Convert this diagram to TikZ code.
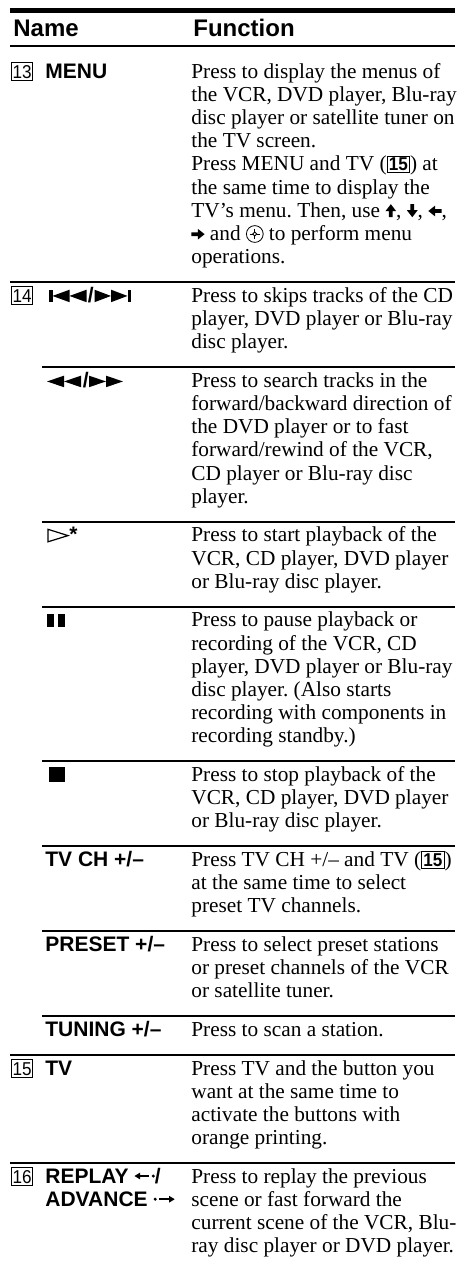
\documentclass[tikz,border=0pt]{standalone}
\usepackage{fontspec}
\setmainfont{Liberation Serif}
\newfontfamily\sansfont{Liberation Sans}
\newfontfamily\numfont[FakeStretch=0.92]{Liberation Sans}
\frenchspacing
\newcommand\bodyfont{\fontsize{10.65pt}{11.6pt}\selectfont}
\newcommand\namefont{\sansfont\bfseries\fontsize{10.5pt}{11pt}\selectfont}
\newcommand\headfont{\sansfont\bfseries\fontsize{12pt}{13pt}\selectfont}
\newcommand\boxfont{\numfont\fontsize{9.3pt}{10pt}\selectfont}
% inline symbols
\newcommand\bnum[1]{{\setlength\fboxsep{0.6pt}\setlength\fboxrule{0.5pt}\fbox{\boxfont\bfseries #1}}}
\newcommand\uarr{\tikz[baseline=0pt,x=1pt,y=1pt]\fill (-0.95,0) -- (-0.95,3.0) -- (-2.7,3.0) -- (0,6.5) -- (2.7,3.0) -- (0.95,3.0) -- (0.95,0) -- cycle;}
\newcommand\darr{\tikz[baseline=0pt,x=1pt,y=1pt]\fill (-0.95,6.5) -- (-0.95,3.5) -- (-2.7,3.5) -- (0,0) -- (2.7,3.5) -- (0.95,3.5) -- (0.95,6.5) -- cycle;}
\newcommand\larr{\tikz[baseline=0pt,x=1pt,y=1pt]\fill (0,3.1) -- (3.4,5.8) -- (3.4,4.05) -- (6.6,4.05) -- (6.6,2.15) -- (3.4,2.15) -- (3.4,0.4) -- cycle;}
\newcommand\rarr{\tikz[baseline=0pt,x=1pt,y=1pt]\fill (6.6,3.1) -- (3.2,5.8) -- (3.2,4.05) -- (0,4.05) -- (0,2.15) -- (3.2,2.15) -- (3.2,0.4) -- cycle;}
\newcommand\enter{\tikz[baseline=0pt,x=1pt,y=1pt,line width=0.4pt]{\draw (0,3.2) circle (4.2);
  \draw (0,0.6) -- (0,2.2) (0,4.2) -- (0,5.8) (-2.6,3.2) -- (-1,3.2) (1,3.2) -- (2.6,3.2);
  \draw (0,2.2) -- (1,3.2) -- (0,4.2) -- (-1,3.2) -- cycle;}}
\newcommand\replayarr{\tikz[baseline=0pt,x=1pt,y=1pt]{\fill (0,3.6) -- (2.8,5.3) -- (2.8,1.9) -- cycle; \draw[line width=0.75pt] (2.5,3.6) -- (7.4,3.6); \fill (9.4,3.6) circle (0.85);}}
\newcommand\advarr{\tikz[baseline=0pt,x=1pt,y=1pt]{\fill (0.85,3.6) circle (0.85); \draw[line width=0.75pt] (2.9,3.6) -- (7.8,3.6); \fill (10.6,3.6) -- (7.8,5.3) -- (7.8,1.9) -- cycle;}}
\newcommand\fl[3]{\node[fn] (#1) at (191,#2) {#3};}
\begin{document}
\begin{tikzpicture}[x=0.5pt,y=-0.5pt,
  fn/.style={anchor=base west,inner sep=0pt,font=\bodyfont},
  nm/.style={anchor=base west,inner sep=0pt,font=\namefont},
  hd/.style={anchor=base west,inner sep=0pt,font=\headfont},
  numbox/.style={draw,line width=0.5pt,anchor=base west,font=\boxfont,inner xsep=0.6pt,inner ysep=1.1pt,text height=6.7pt,text depth=0pt,minimum width=10.3pt},
  rl/.style={line width=1pt},
  symb/.style={fill=black}]
\useasboundingbox (0,0) rectangle (459,1269);
\fill[white] (0,0) rectangle (459,1269);
% header
\draw[line width=2.5pt] (10,10) -- (455,10);
\node[hd] (hname) at (13,36) {Name};
\node[hd] (hfunc) at (193,36) {Function};
\draw[rl] (10,45.5) -- (455,45.5);
% 13 MENU
\node[numbox] (n13) at (11,78) {13};
\node[nm] (menu) at (45,78) {MENU};
\fl{a1}{78}{Press to display the menus of}
\fl{a2}{101.2}{the VCR, DVD player, Blu-ray}
\fl{a3}{124.4}{disc player or satellite tuner on}
\fl{a4}{147.6}{the TV screen.}
\fl{a5}{170.8}{Press MENU and TV (\bnum{15}) at}
\fl{a6}{194.0}{the same time to display the}
\fl{a7}{217.2}{TV’s menu. Then, use \uarr, \darr, \larr,}
\fl{a8}{240.4}{\rarr{} and \enter{} to perform menu}
\fl{a9}{263.6}{operations.}
\draw[rl] (10,281.9) -- (455,281.9);
% 14 skip
\node[numbox] (n14) at (11,302.2) {14};
\begin{scope}[shift={(47,302.2)}]
  \fill[symb] (2,0) rectangle (5.5,-12.5);
  \fill[symb] (5.5,-6.25) -- (22.5,-12.5) -- (22.5,0) -- cycle;
  \fill[symb] (22.5,-6.25) -- (39.5,-12.5) -- (39.5,0) -- cycle;
  \node[nm] (sl1) at (40.5,0) {/};
  \fill[symb] (47.5,-12.5) -- (64,-6.25) -- (47.5,0) -- cycle;
  \fill[symb] (64,-12.5) -- (80.5,-6.25) -- (64,0) -- cycle;
  \fill[symb] (80.5,0) rectangle (84,-12.5);
\end{scope}
\fl{b1}{302.2}{Press to skips tracks of the CD}
\fl{b2}{325.4}{player, DVD player or Blu-ray}
\fl{b3}{348.6}{disc player.}
\draw[rl] (42,366.9) -- (455,366.9);
% search
\begin{scope}[shift={(47,387.2)}]
  \fill[symb] (0,-5.75) -- (17,-11.5) -- (17,0) -- cycle;
  \fill[symb] (17,-5.75) -- (34,-11.5) -- (34,0) -- cycle;
  \node[nm] (sl2) at (35.5,0) {/};
  \fill[symb] (42,-11.5) -- (59,-5.75) -- (42,0) -- cycle;
  \fill[symb] (59,-11.5) -- (76,-5.75) -- (59,0) -- cycle;
\end{scope}
\fl{c1}{387.2}{Press to search tracks in the}
\fl{c2}{410.4}{forward/backward direction of}
\fl{c3}{433.6}{the DVD player or to fast}
\fl{c4}{456.8}{forward/rewind of the VCR,}
\fl{c5}{480.0}{CD player or Blu-ray disc}
\fl{c6}{503.2}{player.}
\draw[rl] (42,521.5) -- (455,521.5);
% play
\draw[line width=0.6pt,line join=miter] (48,529.3) -- (68,535.6) -- (48,541.8) -- cycle;
\node[nm] (ast) at (69,541.8) {*};
\fl{d1}{541.8}{Press to start playback of the}
\fl{d2}{565.0}{VCR, CD player, DVD player}
\fl{d3}{588.2}{or Blu-ray disc player.}
\draw[rl] (42,606.5) -- (455,606.5);
% pause
\fill[symb] (47,613.8) rectangle (54,626.8);
\fill[symb] (58,613.8) rectangle (65,626.8);
\fl{e1}{626.8}{Press to pause playback or}
\fl{e2}{650.0}{recording of the VCR, CD}
\fl{e3}{673.2}{player, DVD player or Blu-ray}
\fl{e4}{696.4}{disc player. (Also starts}
\fl{e5}{719.6}{recording with components in}
\fl{e6}{742.8}{recording standby.)}
\draw[rl] (42,761.1) -- (455,761.1);
% stop
\fill[symb] (49,766.5) rectangle (64.5,781.9);
\fl{f1}{781.4}{Press to stop playback of the}
\fl{f2}{804.6}{VCR, CD player, DVD player}
\fl{f3}{827.8}{or Blu-ray disc player.}
\draw[rl] (42,846.1) -- (455,846.1);
% TV CH
\node[nm] (tvch) at (45,866.4) {TV CH +/–};
\fl{g1}{866.4}{Press TV CH +/– and TV (\bnum{15})}
\fl{g2}{889.6}{at the same time to select}
\fl{g3}{912.8}{preset TV channels.}
\draw[rl] (42,931.1) -- (455,931.1);
% PRESET
\node[nm] (preset) at (45,951.4) {PRESET +/–};
\fl{h1}{951.4}{Press to select preset stations}
\fl{h2}{974.6}{or preset channels of the VCR}
\fl{h3}{997.8}{or satellite tuner.}
\draw[rl] (42,1016.1) -- (455,1016.1);
% TUNING
\node[nm] (tuning) at (45,1036.4) {TUNING +/–};
\fl{i1}{1036.4}{Press to scan a station.}
\draw[rl] (10,1054.7) -- (455,1054.7);
% 15 TV
\node[numbox] (n15) at (11,1075) {15};
\node[nm] (tv) at (45,1075) {TV};
\fl{j1}{1075.0}{Press TV and the button you}
\fl{j2}{1098.2}{want at the same time to}
\fl{j3}{1121.4}{activate the buttons with}
\fl{j4}{1144.6}{orange printing.}
\draw[rl] (10,1162.9) -- (455,1162.9);
% 16 REPLAY
\node[numbox] (n16) at (11,1183.2) {16};
\node[nm] (replay) at (45,1183.2) {REPLAY \replayarr/};
\node[nm] (advance) at (45,1206.4) {ADVANCE \advarr};
\fl{k1}{1183.2}{Press to replay the previous}
\fl{k2}{1206.4}{scene or fast forward the}
\fl{k3}{1229.6}{current scene of the VCR, Blu-}
\fl{k4}{1252.8}{ray disc player or DVD player.}
\end{tikzpicture}
\end{document}
